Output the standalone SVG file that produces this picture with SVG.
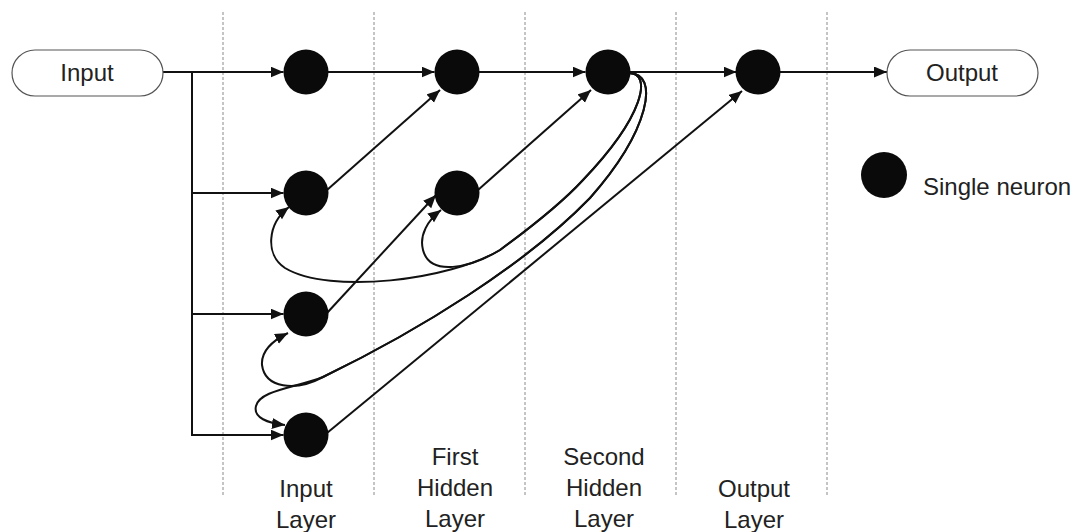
<svg xmlns="http://www.w3.org/2000/svg" width="1083" height="532" viewBox="0 0 1083 532">
<style>
.lane{stroke:#8a8a8a;stroke-width:1;stroke-dasharray:3,2;fill:none}
.edge{stroke:#111;stroke-width:2;fill:none}
.arr{marker-end:url(#ah)}
.neuron{fill:#0a0a0a}
.term{fill:#fff;stroke:#555;stroke-width:1.2}
.lbl{font-family:"Liberation Sans",Arial,sans-serif;font-size:24px;fill:#222;text-anchor:middle}
</style>
<defs>
<marker id="ah" markerUnits="userSpaceOnUse" markerWidth="14" markerHeight="12" refX="13" refY="5.5" orient="auto">
<path d="M0,0 L13,5.5 L0,11 z" fill="#111"/>
</marker>
</defs>
<rect width="1083" height="532" fill="#fff"/>
<g id="lanes">
<line class="lane" x1="223" y1="12" x2="223" y2="495"/>
<line class="lane" x1="374" y1="12" x2="374" y2="495"/>
<line class="lane" x1="525" y1="12" x2="525" y2="495"/>
<line class="lane" x1="676" y1="12" x2="676" y2="495"/>
<line class="lane" x1="827" y1="12" x2="827" y2="495"/>
</g>
<g id="connectors">
<polyline class="edge" points="192,72 192,435"/>
<line class="edge arr" x1="163" y1="72" x2="283.5" y2="72"/>
<line class="edge arr" x1="191" y1="193" x2="283.5" y2="193"/>
<line class="edge arr" x1="191" y1="314" x2="283.5" y2="314"/>
<line class="edge arr" x1="191" y1="435" x2="283.5" y2="435"/>
<line class="edge arr" x1="328" y1="72" x2="434.5" y2="72"/>
<line class="edge arr" x1="479" y1="72" x2="585.5" y2="72"/>
<line class="edge arr" x1="630" y1="72" x2="736.5" y2="72"/>
<line class="edge arr" x1="780" y1="72" x2="887" y2="72"/>
<line class="edge arr" x1="327" y1="190" x2="440" y2="90"/>
<line class="edge arr" x1="478" y1="190" x2="591" y2="90"/>
<line class="edge arr" x1="327" y1="313" x2="436" y2="195"/>
<line class="edge arr" x1="327" y1="433" x2="742" y2="91"/>
<path class="edge arr" d="M629,73 C652,73 645,115 583,180 C560,205 530,228 500,250 C450,280 330,295 285,268 C265,255 267,224 289,207"/>
<path class="edge arr" d="M629,73 C652,73 645,115 583,180 C560,205 530,228 500,250 C470,268 430,277 423,250 C419,235 428,220 441,210"/>
<path class="edge arr" d="M629,73 C660,73 650,130 590,198 C525,265 420,330 323,377 C295,392 265,388 262,365 C261,352 272,341 288,333"/>
<path class="edge arr" d="M629,73 C660,73 650,130 590,198 C525,265 420,330 323,377 C295,388 260,390 256,406 C253,418 268,423 285,425"/>
</g>
<g id="node-input"><rect class="term" x="12" y="50" width="151" height="46" rx="23"/><text class="lbl" x="87" y="81">Input</text></g>
<g id="node-output"><rect class="term" x="887" y="50" width="151" height="46" rx="23"/><text class="lbl" x="962" y="81">Output</text></g>
<g id="n-i1"><circle class="neuron" cx="306" cy="72" r="22.5"/></g>
<g id="n-i2"><circle class="neuron" cx="306" cy="193" r="22.5"/></g>
<g id="n-i3"><circle class="neuron" cx="306" cy="314" r="22.5"/></g>
<g id="n-i4"><circle class="neuron" cx="306" cy="435" r="22.5"/></g>
<g id="n-h1a"><circle class="neuron" cx="457" cy="72" r="22.5"/></g>
<g id="n-h1b"><circle class="neuron" cx="457" cy="193" r="22.5"/></g>
<g id="n-h2"><circle class="neuron" cx="608" cy="72" r="22.5"/></g>
<g id="n-o"><circle class="neuron" cx="758" cy="72" r="22.5"/></g>
<g id="legend"><circle class="neuron" cx="884" cy="175" r="23"/><text class="lbl" x="923" y="195" style="text-anchor:start">Single neuron</text></g>
<g id="layer-labels">
<text class="lbl" x="306" y="497">Input</text><text class="lbl" x="306" y="528">Layer</text>
<text class="lbl" x="455" y="465">First</text><text class="lbl" x="455" y="496">Hidden</text><text class="lbl" x="455" y="527">Layer</text>
<text class="lbl" x="604" y="465">Second</text><text class="lbl" x="604" y="496">Hidden</text><text class="lbl" x="604" y="527">Layer</text>
<text class="lbl" x="754" y="497">Output</text><text class="lbl" x="754" y="528">Layer</text>
</g>
</svg>
